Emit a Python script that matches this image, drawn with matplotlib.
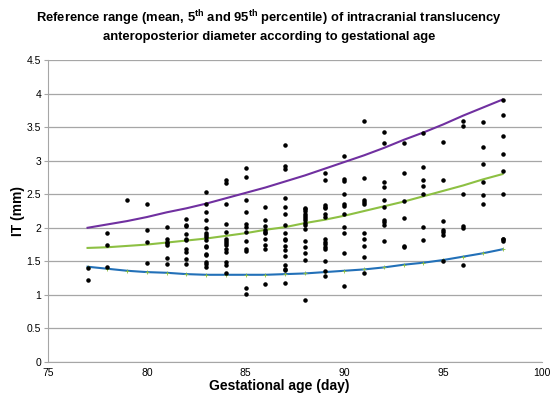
import numpy as np
import matplotlib
matplotlib.use('Agg')
import matplotlib.pyplot as plt

plt.rcParams['font.family'] = ['Liberation Sans', 'DejaVu Sans']
plt.rcParams['mathtext.fontset'] = 'custom'
plt.rcParams['mathtext.rm'] = 'Liberation Sans'
plt.rcParams['mathtext.bf'] = 'Liberation Sans:bold'

# Measured IT values (mm) per gestational day
obs = {
    77: [1.40, 1.22],
    78: [1.92, 1.74, 1.41],
    79: [2.41],
    80: [2.35, 1.96, 1.79, 1.48],
    81: [2.01, 1.83, 1.79, 1.77, 1.74, 1.55, 1.46],
    82: [2.13, 2.04, 2.02, 1.91, 1.84, 1.82, 1.68, 1.64, 1.54, 1.46],
    83: [2.54, 2.35, 2.23, 2.11, 2.00, 1.92, 1.89, 1.86, 1.82, 1.73, 1.71, 1.61, 1.59, 1.49, 1.46, 1.42],
    84: [2.71, 2.66, 2.36, 2.06, 1.93, 1.83, 1.80, 1.77, 1.74, 1.68, 1.64, 1.49, 1.44, 1.32],
    85: [2.89, 2.76, 2.41, 2.24, 2.05, 2.01, 1.93, 1.81, 1.68, 1.66, 1.11, 1.01],
    86: [2.31, 2.11, 2.02, 1.97, 1.94, 1.92, 1.83, 1.74, 1.68, 1.16],
    87: [3.23, 2.92, 2.88, 2.44, 2.31, 2.21, 2.04, 1.92, 1.84, 1.82, 1.73, 1.67, 1.58, 1.44, 1.39, 1.37, 1.18],
    88: [2.30, 2.28, 2.25, 2.21, 2.18, 2.15, 2.11, 2.07, 2.04, 1.98, 1.81, 1.72, 1.62, 1.52, 0.93],
    89: [2.81, 2.71, 2.34, 2.31, 2.29, 2.21, 2.16, 1.84, 1.79, 1.76, 1.72, 1.68, 1.51, 1.35, 1.28],
    90: [3.07, 2.72, 2.70, 2.51, 2.35, 2.32, 2.21, 2.01, 1.92, 1.62, 1.14],
    91: [3.59, 2.74, 2.42, 2.39, 2.35, 1.92, 1.84, 1.73, 1.56, 1.33],
    92: [3.42, 3.27, 2.68, 2.61, 2.42, 2.31, 2.11, 2.08, 2.04, 1.81],
    93: [3.27, 2.81, 2.40, 2.14, 1.73, 1.71],
    94: [3.41, 2.91, 2.71, 2.62, 2.51, 2.01, 1.82],
    95: [3.28, 2.71, 2.10, 1.96, 1.93, 1.90, 1.51],
    96: [3.59, 3.51, 2.50, 2.03, 1.99, 1.44],
    97: [3.58, 3.21, 2.95, 2.68, 2.49, 2.36],
    98: [3.91, 3.68, 3.36, 3.10, 2.84, 2.50, 1.84, 1.83, 1.81],
}

# Reference curves read at each day
days = list(range(77, 99))
p95 = [2.00, 2.05, 2.10, 2.16, 2.23, 2.29, 2.36, 2.44, 2.52, 2.60, 2.69,
       2.78, 2.88, 2.98, 3.08, 3.19, 3.31, 3.42, 3.54, 3.67, 3.79, 3.91]
mean = [1.70, 1.71, 1.73, 1.75, 1.78, 1.81, 1.84, 1.88, 1.92, 1.97, 2.01,
        2.07, 2.12, 2.18, 2.25, 2.32, 2.39, 2.47, 2.55, 2.63, 2.72, 2.80]
p5 = [1.42, 1.39, 1.36, 1.34, 1.33, 1.31, 1.30, 1.30, 1.30, 1.30, 1.31,
      1.32, 1.34, 1.36, 1.38, 1.41, 1.45, 1.48, 1.52, 1.57, 1.62, 1.68]

fig = plt.figure(figsize=(5.52, 3.97), dpi=100)
ax = fig.add_axes([0.087, 0.088, 0.895, 0.761])

xs = [d for d, v in obs.items() for _ in v]
ys = [y for v in obs.values() for y in v]

ax.plot(days, p95, color='#7030A0', lw=1.5, zorder=3)
ax.plot(days, mean, color='#8DC043', lw=1.5, zorder=3)
ax.plot(days, p5, color='#2270B8', lw=1.5, zorder=3,
        marker='+', markersize=2.5, markeredgecolor='#8DC043', markeredgewidth=0.6)
ax.scatter(xs, ys, s=5, color='black', zorder=4)

ax.set_xlim(75, 100)
ax.set_ylim(0, 4.5)
ax.set_xticks(range(75, 101, 5))
ax.set_yticks(np.arange(0, 4.51, 0.5))
ax.set_yticklabels(['0', '0.5', '1', '1.5', '2', '2.5', '3', '3.5', '4', '4.5'])
ax.yaxis.grid(True, color='#A6A6A6', lw=0.9)
ax.set_axisbelow(True)
for s in ['top', 'right']:
    ax.spines[s].set_visible(False)
for s in ['left', 'bottom']:
    ax.spines[s].set_color('#A6A6A6')
ax.tick_params(axis='y', length=3, color='#A6A6A6', labelsize=7.5, pad=2)
ax.tick_params(axis='x', length=0, labelsize=7.5, pad=4)

ax.set_xlabel('Gestational age (day)', fontsize=10, fontweight='bold', labelpad=2)
ax.xaxis.set_label_coords(0.468, -0.055)
ax.set_ylabel('IT (mm)', fontsize=10, fontweight='bold', labelpad=1)

fig.text(0.487, 0.955,
         r'Reference range (mean, 5$^{\mathbf{th}}$ and 95$^{\mathbf{th}}$ percentile) of intracranial translucency',
         ha='center', va='center', fontsize=9.4, fontweight='bold')
fig.text(0.487, 0.907, 'anteroposterior diameter according to gestational age',
         ha='center', va='center', fontsize=9.4, fontweight='bold')

fig.savefig('out.png', dpi=100)
